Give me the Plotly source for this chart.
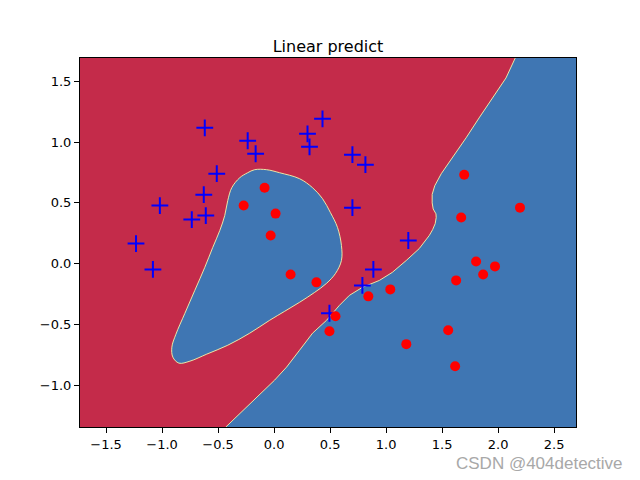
import plotly.graph_objects as go

# pontos da classe 0 (cruzes azuis)
blue_x = [-1.233, -1.082, -1.020, -0.735, -0.610, -0.628, -0.512, -0.619, -0.236, -0.165,
          0.298, 0.316, 0.432, 0.699, 0.815, 0.699, 1.198, 0.886, 0.788, 0.494]
blue_y = [0.166, -0.047, 0.478, 0.363, 0.396, 0.568, 0.740, 1.117, 1.011, 0.904,
          1.068, 0.961, 1.191, 0.896, 0.814, 0.461, 0.191, -0.047, -0.178, -0.407]

# pontos da classe 1 (circulos vermelhos)
red_x = [-0.085, -0.272, 0.013, -0.031, 0.147, 0.378, 0.548, 0.494, 0.841, 1.037,
         1.697, 2.195, 1.670, 1.803, 1.972, 1.866, 1.625, 1.554, 1.180, 1.616]
red_y = [0.625, 0.478, 0.412, 0.232, -0.088, -0.153, -0.432, -0.555, -0.268, -0.211,
         0.732, 0.461, 0.380, 0.019, -0.022, -0.088, -0.137, -0.547, -0.661, -0.842]

# fronteira de decisao: ilha azul
island_x = [-0.174, -0.067, 0.049, 0.227, 0.343, 0.432, 0.503, 0.566, 0.601, 0.601,
            0.548, 0.467, 0.361, 0.227, 0.094, -0.040, -0.218, -0.414, -0.601, -0.752,
            -0.850, -0.904, -0.913, -0.877, -0.797, -0.708, -0.619, -0.548, -0.485, -0.441,
            -0.414, -0.378, -0.307, -0.236, -0.174]
island_y = [0.773, 0.773, 0.748, 0.699, 0.625, 0.535, 0.420, 0.298, 0.150, 0.027,
            -0.080, -0.162, -0.236, -0.317, -0.391, -0.465, -0.571, -0.670, -0.743, -0.801,
            -0.817, -0.768, -0.686, -0.580, -0.408, -0.219, -0.030, 0.134, 0.273, 0.396,
            0.519, 0.625, 0.707, 0.748, 0.773]

# fronteira de decisao: regiao azul principal (de cima para baixo)
edge_x = [2.230, 2.150, 2.070, 1.946, 1.830, 1.714, 1.589, 1.492, 1.434, 1.411, 1.411,
          1.420, 1.445, 1.447, 1.438, 1.415, 1.385, 1.296, 1.180, 1.055, 0.940, 0.788,
          0.672, 0.583, 0.468, 0.343, 0.227, 0.111, 0.004, -0.218, -0.432, -0.500]
edge_y = [1.800, 1.686, 1.527, 1.363, 1.199, 1.035, 0.871, 0.740, 0.641, 0.570, 0.500,
          0.450, 0.410, 0.380, 0.330, 0.280, 0.232, 0.125, 0.027, -0.071, -0.137, -0.194,
          -0.260, -0.342, -0.465, -0.571, -0.711, -0.850, -0.957, -1.153, -1.343, -1.420]

all_x = blue_x + red_x
all_y = blue_y + red_y
x_min, x_max = min(all_x) - 0.5, max(all_x) + 0.5
y_min, y_max = min(all_y) - 0.5, max(all_y) + 0.5

RED = "#c42b4a"
BLUE = "#3f76b3"
EDGE = "rgba(245,245,170,0.9)"

fig = go.Figure()

# regiao azul principal
fig.add_trace(go.Scatter(
    x=edge_x + [x_max + 1, x_max + 1, edge_x[0]],
    y=edge_y + [y_min - 1, y_max + 1, edge_y[0]],
    fill="toself", fillcolor=BLUE, mode="lines", line=dict(width=0),
    hoverinfo="skip", showlegend=False,
))
fig.add_trace(go.Scatter(x=edge_x, y=edge_y, mode="lines",
                         line=dict(color=EDGE, width=1), hoverinfo="skip", showlegend=False))

# ilha azul
fig.add_trace(go.Scatter(
    x=island_x, y=island_y, fill="toself", fillcolor=BLUE, mode="lines",
    line=dict(color=EDGE, width=1), line_shape="spline",
    hoverinfo="skip", showlegend=False,
))

# pontos
fig.add_trace(go.Scatter(
    x=blue_x, y=blue_y, mode="markers", showlegend=False,
    marker=dict(symbol="cross-thin", size=12, line=dict(color="blue", width=2)),
))
fig.add_trace(go.Scatter(
    x=red_x, y=red_y, mode="markers", showlegend=False,
    marker=dict(symbol="circle", size=10, color="red", line=dict(width=0)),
))

axis_style = dict(
    showgrid=False, zeroline=False, showline=True, linecolor="black", linewidth=1,
    mirror=True, ticks="outside", ticklen=5, tickwidth=1, tickcolor="black",
    tickformat=".1f", tickfont=dict(family="DejaVu Sans", size=13, color="black"),
)

fig.update_xaxes(range=[x_min, x_max], dtick=0.5, tick0=0, **axis_style)
fig.update_yaxes(range=[y_min, y_max], dtick=0.5, tick0=0, **axis_style)

# a pagina tem margem de 8px no body, por isso 632x472
fig.update_layout(
    width=632, height=472,
    margin=dict(l=72, r=64, t=50, b=53),
    paper_bgcolor="white", plot_bgcolor=RED,
    title=dict(text="Linear predict", x=0.5, xref="paper", xanchor="center",
               y=1, yref="paper", yanchor="bottom", pad=dict(b=6),
               font=dict(family="DejaVu Sans", size=16, color="black")),
    font=dict(family="DejaVu Sans"),
)

# marca d'agua
fig.add_annotation(
    text="CSDN @404detective", xref="paper", yref="paper", x=0.927, y=-0.1,
    xanchor="center", yanchor="middle", showarrow=False,
    font=dict(family="Liberation Sans Narrow, Liberation Sans", size=17, color="#a8a8a8"),
)

fig.write_html("out.html")
